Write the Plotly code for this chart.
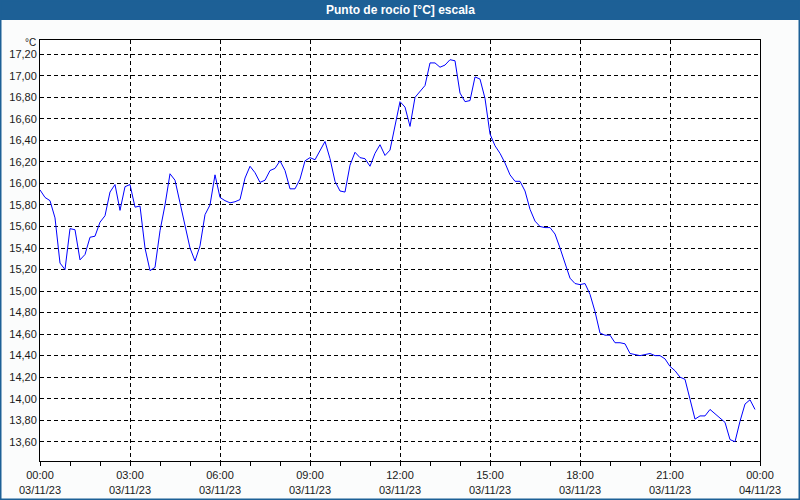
import plotly.graph_objects as go
import pandas as pd

title_text = "Punto de rocío [°C] escala"
unit_label = "°C"
start_time = "2023-11-03 00:00"
times = pd.date_range(start_time, periods=144, freq="10min")

dew_point = [
    15.94, 15.87, 15.84, 15.68, 15.26, 15.20, 15.58, 15.57, 15.29, 15.34,
    15.50, 15.51, 15.64, 15.70, 15.92, 15.99, 15.75, 15.97, 15.99, 15.78,
    15.79, 15.40, 15.19, 15.22, 15.56, 15.80, 16.09, 16.03, 15.82, 15.60,
    15.40, 15.28, 15.42, 15.71, 15.80, 16.08, 15.87, 15.84, 15.82, 15.83,
    15.85, 16.05, 16.16, 16.10, 16.01, 16.03, 16.12, 16.14, 16.21, 16.12,
    15.95, 15.95, 16.04, 16.21, 16.24, 16.22, 16.30, 16.39, 16.23, 16.02,
    15.93, 15.92, 16.17, 16.29, 16.24, 16.23, 16.16, 16.28, 16.36, 16.26,
    16.31, 16.52, 16.76, 16.71, 16.53, 16.80, 16.85, 16.91, 17.12, 17.12,
    17.08, 17.10, 17.15, 17.14, 16.84, 16.76, 16.77, 16.99, 16.97, 16.79,
    16.46, 16.35, 16.28, 16.19, 16.08, 16.02, 16.02, 15.93, 15.76, 15.65,
    15.60, 15.59, 15.59, 15.53, 15.40, 15.26, 15.12, 15.07, 15.06, 15.07,
    14.97, 14.81, 14.61, 14.59, 14.59, 14.52, 14.52, 14.51, 14.42, 14.41,
    14.40, 14.41, 14.42, 14.40, 14.40, 14.37, 14.30, 14.26, 14.20, 14.18,
    13.99, 13.81, 13.84, 13.84, 13.90, 13.86, 13.82, 13.78, 13.62, 13.60,
    13.79, 13.95, 13.99, 13.90,
]

x_tickvals = pd.date_range(start_time, periods=9, freq="3h")
x_ticktext = [
    "00:00<br>03/11/23", "03:00<br>03/11/23", "06:00<br>03/11/23",
    "09:00<br>03/11/23", "12:00<br>03/11/23", "15:00<br>03/11/23",
    "18:00<br>03/11/23", "21:00<br>03/11/23", "00:00<br>04/11/23",
]
y_tickvals = [13.6, 13.8, 14.0, 14.2, 14.4, 14.6, 14.8, 15.0, 15.2, 15.4,
              15.6, 15.8, 16.0, 16.2, 16.4, 16.6, 16.8, 17.0, 17.2]
y_range = [13.421, 17.333]

W, H = 800, 500
ML, MR, MT, MB = 40, 40, 40, 39
PW, PH = W - ML - MR, H - MT - MB
BLUE = "#1d6096"
FONT = "Liberation Sans"
TXT = "#1a1a1a"

def px(xp):
    return (xp - ML) / PW

def py(yp):
    return (H - MB - yp) / PH

fig = go.Figure()
fig.add_trace(go.Scatter(
    x=times, y=dew_point, mode="lines",
    line=dict(color="#0000ff", width=1), hoverinfo="x+y",
))

fig.update_layout(
    width=W, height=H,
    margin=dict(l=ML, r=MR, t=MT, b=MB, pad=0),
    paper_bgcolor="#fbfcfc", plot_bgcolor="#ffffff",
    showlegend=False,
    separators=",.",
    font=dict(family=FONT, size=11, color=TXT),
    xaxis=dict(
        type="date", automargin=False,
        range=[x_tickvals[0], x_tickvals[-1]],
        tickvals=x_tickvals, ticktext=x_ticktext,
        ticks="outside", ticklen=4, tickcolor="#000", tickwidth=1,
        minor=dict(dtick=3600000, ticks="outside", ticklen=4,
                   tickcolor="#000", showgrid=False),
        showgrid=True, gridcolor="#000", gridwidth=1, griddash="4px,3px",
        showline=True, linecolor="#000", linewidth=1, mirror=True,
        zeroline=False, tickfont=dict(family=FONT, size=11, color=TXT),
    ),
    yaxis=dict(
        automargin=False,
        range=y_range, tickvals=y_tickvals, tickformat=".2f",
        ticks="", showgrid=True, gridcolor="#000", gridwidth=1,
        griddash="4px,3px",
        showline=True, linecolor="#000", linewidth=1, mirror=True,
        zeroline=False, tickfont=dict(family=FONT, size=11, color=TXT),
    ),
    shapes=[
        dict(type="rect", xref="paper", yref="paper",
             x0=px(0), x1=px(W), y0=py(20), y1=py(0),
             fillcolor=BLUE, line=dict(width=0), layer="below"),
        dict(type="rect", xref="paper", yref="paper",
             x0=px(0.5), x1=px(W - 0.5), y0=py(H - 0.5), y1=py(0.5),
             fillcolor="rgba(0,0,0,0)", line=dict(color=BLUE, width=2)),
    ],
    annotations=[
        dict(text="<b>" + title_text + "</b>", xref="paper", yref="paper",
             x=px(W / 2), y=py(10), showarrow=False,
             xanchor="center", yanchor="middle",
             font=dict(family=FONT, size=12, color="#ffffff")),
        dict(text=unit_label, xref="paper", yref="paper",
             x=px(38), y=py(42), showarrow=False,
             xanchor="right", yanchor="middle",
             font=dict(family=FONT, size=10, color=TXT)),
    ],
)

fig.write_html("out.html")
